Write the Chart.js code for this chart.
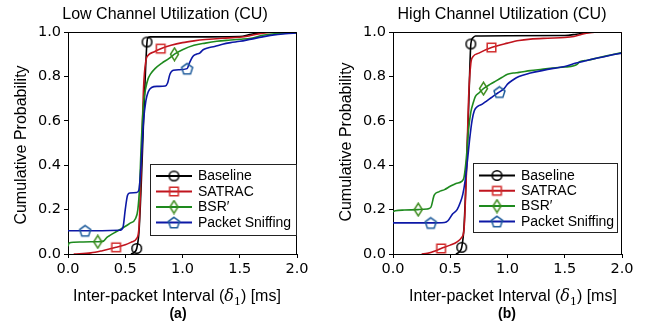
<!DOCTYPE html>
<html>
<head>
<meta charset="utf-8">
<script src="https://cdn.jsdelivr.net/npm/chart.js@4.4.1/dist/chart.umd.min.js"></script>
<style>
  html, body { margin: 0; padding: 0; background: #fff; }
  #wrap { position: relative; width: 650px; height: 328px; }
  .panel { position: absolute; top: 0; width: 325px; height: 328px; }
</style>
</head>
<body>
<div id="wrap">
  <div class="panel" style="left:0"><canvas id="lowChart" width="325" height="328"></canvas></div>
  <div class="panel" style="left:325px"><canvas id="highChart" width="325" height="328"></canvas></div>
</div>
<script>
// series names / styles
const seriesNames = ["Baseline", "SATRAC", "BSR\u2032", "Packet Sniffing"];
const lineColors = ["#000000", "#c0141e", "#1e8a1e", "#0c18a6"];
const markerColors = ["#000000", "#d22b2b", "#3d8b1d", "#1f5c9c"];
const markerShapes = ["circle", "square", "thinDiamond", "pentagon"];

const xTicks = [0.0, 0.5, 1.0, 1.5, 2.0];
const yTicks = [0.0, 0.2, 0.4, 0.6, 0.8, 1.0];

// ---- (a) Low channel utilization ----
const lowBaselineX = [0.55, 0.58, 0.60, 0.62, 0.64, 0.66, 0.69, 0.70, 0.72, 1.0, 1.5, 1.6, 1.7, 1.76, 2.0];
const lowBaselineY = [0, 0.008, 0.025, 0.10, 0.32, 0.60, 0.955, 0.975, 0.978, 0.978, 0.98, 0.99, 0.998, 1.0, 1.0];
const lowSatracX = [0.05, 0.2, 0.3, 0.42, 0.5, 0.56, 0.6, 0.62, 0.64, 0.66, 0.68, 0.7, 0.75, 0.81, 0.9, 1.0, 1.1, 1.2, 1.35, 1.5, 1.58, 1.65, 1.72, 1.8, 2.0];
const lowSatracY = [0, 0.005, 0.015, 0.03, 0.042, 0.055, 0.07, 0.12, 0.4, 0.75, 0.87, 0.895, 0.91, 0.925, 0.94, 0.952, 0.96, 0.966, 0.972, 0.976, 0.982, 0.99, 0.996, 0.999, 1.0];
const lowBsrX = [0, 0.01, 0.05, 0.2, 0.26, 0.31, 0.34, 0.37, 0.42, 0.48, 0.54, 0.59, 0.61, 0.625, 0.64, 0.66, 0.68, 0.7, 0.72, 0.76, 0.82, 0.88, 0.93, 1.0, 1.1, 1.2, 1.3, 1.4, 1.5, 1.6, 1.7, 1.8, 2.0];
const lowBsrY = [0.035, 0.05, 0.053, 0.055, 0.055, 0.058, 0.075, 0.085, 0.1, 0.118, 0.138, 0.16, 0.2, 0.3, 0.5, 0.68, 0.75, 0.79, 0.81, 0.835, 0.86, 0.88, 0.9, 0.92, 0.94, 0.95, 0.958, 0.963, 0.967, 0.972, 0.985, 0.992, 0.997];
const lowSniffX = [0, 0.15, 0.3, 0.45, 0.48, 0.5, 0.52, 0.54, 0.6, 0.62, 0.64, 0.66, 0.68, 0.7, 0.73, 0.78, 0.85, 0.87, 0.89, 0.92, 0.97, 1.04, 1.06, 1.09, 1.12, 1.15, 1.18, 1.22, 1.28, 1.35, 1.42, 1.5, 1.6, 1.7, 1.8, 1.9, 2.0];
const lowSniffY = [0.105, 0.105, 0.105, 0.107, 0.12, 0.2, 0.265, 0.275, 0.277, 0.29, 0.42, 0.6, 0.69, 0.73, 0.75, 0.755, 0.757, 0.77, 0.81, 0.828, 0.83, 0.835, 0.86, 0.89, 0.9, 0.905, 0.92, 0.928, 0.935, 0.945, 0.952, 0.958, 0.968, 0.978, 0.987, 0.992, 0.996];
const lowMarks = [[0.60, 0.69], [0.42, 0.81], [0.26, 0.93], [0.15, 1.04]];

// ---- (b) High channel utilization ----
const highBaselineX = [0.55, 0.58, 0.6, 0.62, 0.64, 0.66, 0.68, 0.7, 0.72, 1.0, 1.5, 1.6, 1.7, 1.76, 2.0];
const highBaselineY = [0, 0.01, 0.03, 0.12, 0.36, 0.65, 0.946, 0.975, 0.982, 0.983, 0.984, 0.99, 0.998, 1.0, 1.0];
const highSatracX = [0.25, 0.3, 0.36, 0.42, 0.5, 0.56, 0.6, 0.62, 0.64, 0.66, 0.68, 0.7, 0.75, 0.86, 1.0, 1.1, 1.2, 1.35, 1.5, 1.58, 1.65, 1.72, 1.8, 2.0];
const highSatracY = [0, 0.003, 0.012, 0.025, 0.04, 0.055, 0.075, 0.11, 0.35, 0.7, 0.86, 0.89, 0.905, 0.93, 0.95, 0.962, 0.968, 0.972, 0.975, 0.98, 0.99, 0.997, 1.0, 1.0];
const highBsrX = [0, 0.02, 0.1, 0.22, 0.3, 0.33, 0.36, 0.4, 0.45, 0.5, 0.55, 0.6, 0.62, 0.64, 0.66, 0.68, 0.7, 0.72, 0.75, 0.79, 0.85, 0.9, 0.95, 1.0, 1.05, 1.1, 1.2, 1.3, 1.4, 1.5, 1.58, 1.61, 1.63, 1.7, 1.8, 1.9, 2.0];
const highBsrY = [0.19, 0.195, 0.198, 0.2, 0.203, 0.21, 0.265, 0.28, 0.29, 0.305, 0.318, 0.327, 0.345, 0.43, 0.56, 0.64, 0.68, 0.71, 0.725, 0.745, 0.765, 0.78, 0.795, 0.81, 0.815, 0.818, 0.826, 0.832, 0.838, 0.842, 0.848, 0.855, 0.866, 0.873, 0.885, 0.896, 0.907];
const highSniffX = [0, 0.1, 0.33, 0.45, 0.48, 0.52, 0.56, 0.59, 0.61, 0.63, 0.65, 0.67, 0.69, 0.71, 0.74, 0.78, 0.82, 0.86, 0.9, 0.93, 0.97, 1.0, 1.05, 1.1, 1.2, 1.3, 1.4, 1.5, 1.6, 1.7, 1.8, 1.9, 2.0];
const highSniffY = [0.14, 0.14, 0.14, 0.142, 0.15, 0.18, 0.2, 0.235, 0.27, 0.33, 0.42, 0.52, 0.6, 0.645, 0.665, 0.675, 0.69, 0.705, 0.72, 0.73, 0.745, 0.765, 0.785, 0.8, 0.815, 0.826, 0.836, 0.845, 0.86, 0.873, 0.884, 0.895, 0.905];
const highMarks = [[0.60, 0.68], [0.42, 0.86], [0.22, 0.79], [0.33, 0.93]];

// hollow marker glyphs, drawn once per colour
function makeMarker(shape, color) {
  const c = document.createElement("canvas");
  c.width = 15; c.height = 15;
  const g = c.getContext("2d");
  const m = 7.5;
  g.strokeStyle = color;
  g.lineWidth = 1.5;
  g.beginPath();
  if (shape === "circle") {
    g.arc(m, m, 4.8, 0, Math.PI * 2);
  } else if (shape === "square") {
    g.rect(m - 4.3, m - 4.3, 8.6, 8.6);
  } else if (shape === "thinDiamond") {
    g.moveTo(m, m - 6.3); g.lineTo(m + 4, m); g.lineTo(m, m + 6.3); g.lineTo(m - 4, m); g.closePath();
  } else {
    for (let k = 0; k < 5; k++) {
      const a = -Math.PI / 2 + k * 2 * Math.PI / 5;
      const px = m + 5.8 * Math.cos(a), py = m + 5.8 * Math.sin(a) + 0.6;
      if (k) g.lineTo(px, py); else g.moveTo(px, py);
    }
    g.closePath();
  }
  g.stroke();
  return c;
}
const markerImgs = markerShapes.map((s, i) => makeMarker(s, markerColors[i]));

function buildDatasets(xsList, ysList, marks) {
  return xsList.map((xs, i) => ({
    label: seriesNames[i],
    data: xs.map((x, j) => ({ x: x, y: ysList[i][j] })),
    borderColor: lineColors[i],
    borderWidth: 1.6,
    cubicInterpolationMode: "monotone",
    fill: false,
    order: 3 - i,
    pointStyle: markerImgs[i],
    pointRadius: (ctx) => (ctx.raw && marks[i].includes(ctx.raw.x)) ? 6 : 0,
    pointHoverRadius: 0,
    pointHitRadius: 0
  }));
}

// frame, texts and boxed legend
const decorPlugin = {
  id: "decor",
  afterDraw(chart, args, opts) {
    const ctx = chart.ctx;
    const a = chart.chartArea;
    ctx.save();
    // top/right spines
    ctx.strokeStyle = "#000";
    ctx.lineWidth = 1;
    ctx.beginPath();
    ctx.moveTo(a.left, a.top + 0.5);
    ctx.lineTo(a.right - 0.5, a.top + 0.5);
    ctx.lineTo(a.right - 0.5, a.bottom);
    ctx.stroke();

    ctx.fillStyle = "#000";
    ctx.textBaseline = "alphabetic";
    // title
    ctx.font = "16px 'Liberation Sans', Arial, sans-serif";
    ctx.textAlign = "center";
    ctx.fillText(opts.title, opts.titleX, 18.5);

    // x axis label with math part
    const parts = [
      { t: "Inter-packet Interval (", f: "16px 'Liberation Sans', Arial, sans-serif", dy: 0 },
      { t: "\u03b4", f: "italic 16px 'DejaVu Serif', serif", dy: 0 },
      { t: "1", f: "11px 'DejaVu Serif', serif", dy: 3.5 },
      { t: ") [ms]", f: "16px 'Liberation Sans', Arial, sans-serif", dy: 0 }
    ];
    let total = 0;
    parts.forEach(p => { ctx.font = p.f; p.w = ctx.measureText(p.t).width; total += p.w; });
    let x = opts.xLabelX - total / 2;
    ctx.textAlign = "left";
    parts.forEach(p => { ctx.font = p.f; ctx.fillText(p.t, x, 301 + p.dy); x += p.w; });

    // panel tag
    ctx.font = "bold 14px 'Liberation Sans', Arial, sans-serif";
    ctx.textAlign = "center";
    ctx.fillText(opts.tag, opts.tagX, 318);

    // y axis label
    ctx.save();
    ctx.translate(22, opts.yLabelY);
    ctx.rotate(-Math.PI / 2);
    ctx.font = "16px 'Liberation Sans', Arial, sans-serif";
    ctx.textBaseline = "middle";
    ctx.fillText("Cumulative Probability", 0, 0);
    ctx.restore();

    // legend box
    const L = opts.legend;
    ctx.fillStyle = "#fff";
    ctx.fillRect(L.x, L.y, L.w, L.h);
    ctx.strokeStyle = "#222";
    ctx.lineWidth = 1;
    ctx.strokeRect(L.x + 0.5, L.y + 0.5, L.w, L.h);
    ctx.font = "14px 'Liberation Sans', Arial, sans-serif";
    ctx.textAlign = "left";
    ctx.textBaseline = "middle";
    chart.data.datasets.forEach((ds, i) => {
      const ry = L.rowY + i * L.step;
      ctx.strokeStyle = ds.borderColor;
      ctx.lineWidth = 2;
      ctx.beginPath();
      ctx.moveTo(L.x + 6, ry);
      ctx.lineTo(L.x + 42, ry);
      ctx.stroke();
      const img = markerImgs[i];
      ctx.drawImage(img, L.x + 24 - img.width / 2, ry - img.height / 2);
      ctx.fillStyle = "#000";
      ctx.fillText(ds.label, L.x + 48, ry + 0.5);
    });
    ctx.restore();
  }
};

function makeChart(id, datasets, decor) {
  const tickFont = { family: "'DejaVu Sans', sans-serif", size: 14.5 };
  return new Chart(document.getElementById(id), {
    type: "line",
    data: { datasets },
    options: {
      responsive: false,
      animation: false,
      events: [],
      layout: { padding: { left: 0, top: 32, right: 28, bottom: 0 } },
      plugins: {
        legend: { display: false },
        tooltip: { enabled: false },
        decor: decor
      },
      scales: {
        x: {
          type: "linear", min: 0, max: 2,
          afterBuildTicks: (s) => { s.ticks = xTicks.map(v => ({ value: v })); },
          afterFit: (s) => { s.height = 74; },
          ticks: { color: "#000", font: tickFont, padding: 3, maxRotation: 0, callback: (v) => v.toFixed(1) },
          grid: { drawOnChartArea: false, drawTicks: true, tickLength: 4, color: "#000", tickWidth: 1 },
          border: { color: "#000", width: 1 }
        },
        y: {
          type: "linear", min: 0, max: 1,
          afterBuildTicks: (s) => { s.ticks = yTicks.map(v => ({ value: v })); },
          afterFit: (s) => { s.width = 68; },
          ticks: { color: "#000", font: tickFont, padding: 3, callback: (v) => v.toFixed(1) },
          grid: { drawOnChartArea: false, drawTicks: true, tickLength: 4, color: "#000", tickWidth: 1 },
          border: { color: "#000", width: 1 }
        }
      }
    },
    plugins: [decorPlugin]
  });
}

makeChart("lowChart",
  buildDatasets([lowBaselineX, lowSatracX, lowBsrX, lowSniffX], [lowBaselineY, lowSatracY, lowBsrY, lowSniffY], lowMarks),
  { title: "Low Channel Utilization (CU)", titleX: 165, xLabelX: 177, tag: "(a)", tagX: 178, yLabelY: 145,
    legend: { x: 150, y: 164, w: 146, h: 71, rowY: 176, step: 15.5 } });

makeChart("highChart",
  buildDatasets([highBaselineX, highSatracX, highBsrX, highSniffX], [highBaselineY, highSatracY, highBsrY, highSniffY], highMarks),
  { title: "High Channel Utilization (CU)", titleX: 177, xLabelX: 188, tag: "(b)", tagX: 182, yLabelY: 142,
    legend: { x: 148, y: 163, w: 144, h: 69, rowY: 175.5, step: 15.3 } });
</script>
</body>
</html>
